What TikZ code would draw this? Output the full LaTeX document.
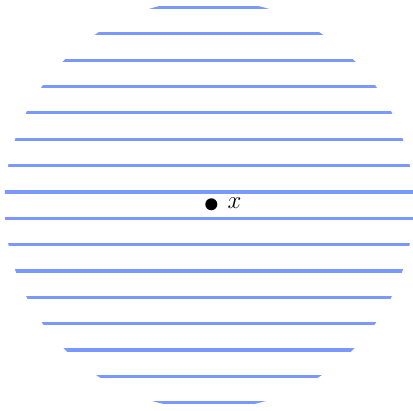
\documentclass[tikz,border=0pt]{standalone}
\begin{document}
\begin{tikzpicture}[x=1pt,y=1pt,
  stripe/.style={draw={rgb,255:red,122;green,152;blue,255},line width=3.2pt},
  pt/.style={circle,fill=black,inner sep=0pt,minimum size=12pt}]
\useasboundingbox (0,0) rectangle (413,-411);
\begin{scope}
\clip (209,-204.5) circle (204.5);
\foreach \k in {0,...,15}{
  \draw[stripe] (0,{-7.5-26.35*\k}) -- (413,{-7.5-26.35*\k});
}
\end{scope}
\node[pt] (p) at (211.3,-204.3) {};
\node[inner sep=0pt,font=\fontsize{26}{30}\selectfont] (lab) at (234.5,-203.6) {$x$};
\end{tikzpicture}
\end{document}
